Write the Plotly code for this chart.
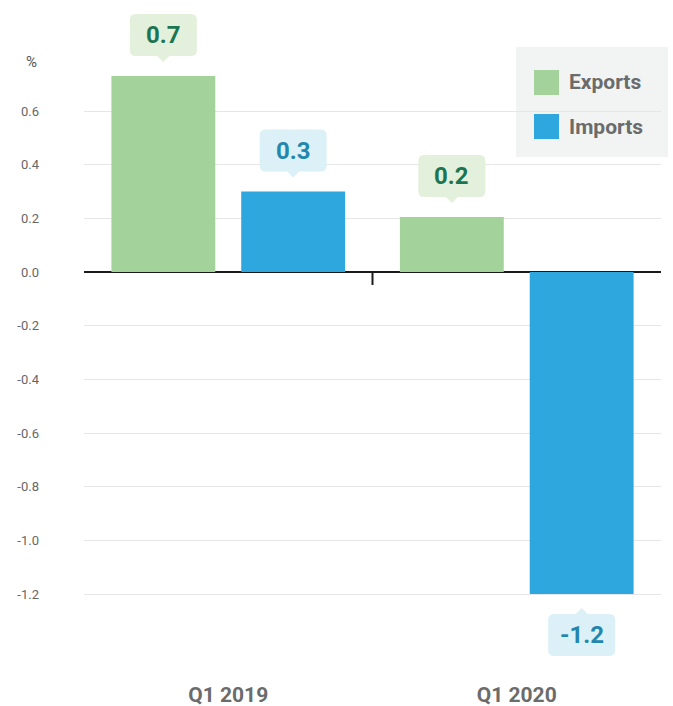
import plotly.graph_objects as go

# ---- data ----
categories = ["Q1 2019", "Q1 2020"]
exports = [0.73, 0.205]
imports = [0.30, -1.2]
export_labels = ["0.7", "0.2"]
import_labels = ["0.3", "-1.2"]
y_ticks = [0.6, 0.4, 0.2, 0.0, -0.2, -0.4, -0.6, -0.8, -1.0, -1.2]
y_ticktext = ["0.6", "0.4", "0.2", "0.0", "-0.2", "-0.4", "-0.6", "-0.8", "-1.0", "-1.2"]

# ---- style ----
W, H = 673, 706
ML, MR, MT, MB = 84, 12, 2, 26
EXP_COLOR = "#a3d39a"
IMP_COLOR = "#2ea6de"
EXP_BOX, EXP_TXT = "#e3f0dc", "#1b7553"
IMP_BOX, IMP_TXT = "#dcf0f7", "#2386ad"
BARGAP, GROUPGAP = 0.1, 0.2
FONT = "Roboto"

xs = list(range(len(categories)))
fig = go.Figure()
fig.add_trace(go.Bar(x=xs, y=exports, name="Exports", marker_color=EXP_COLOR,
                     marker_line_width=0, showlegend=False))
fig.add_trace(go.Bar(x=xs, y=imports, name="Imports", marker_color=IMP_COLOR,
                     marker_line_width=0, showlegend=False))

offset = (1 - BARGAP) / 4.0


def callout_path(up, w=33.5, yb=20, yt=62, tip=14, pw=6, r=6):
    s = 1 if up else -1
    def p(x, y):
        return f"{x},{s*y}"
    return (f"M {p(-w+r, yb)} L {p(-pw, yb)} L {p(0, tip)} L {p(pw, yb)} "
            f"L {p(w-r, yb)} Q {p(w, yb)} {p(w, yb+r)} L {p(w, yt-r)} "
            f"Q {p(w, yt)} {p(w-r, yt)} L {p(-w+r, yt)} Q {p(-w, yt)} {p(-w, yt-r)} "
            f"L {p(-w, yb+r)} Q {p(-w, yb)} {p(-w+r, yb)} Z")


shapes = []
annotations = []
for series, labels, off, box, txt in [(exports, export_labels, -offset, EXP_BOX, EXP_TXT),
                                       (imports, import_labels, offset, IMP_BOX, IMP_TXT)]:
    for i, (v, lab) in enumerate(zip(series, labels)):
        up = v >= 0
        xc = xs[i] + off
        shapes.append(dict(type="path", xref="x", yref="y", xsizemode="pixel",
                           ysizemode="pixel", xanchor=xc, yanchor=v,
                           path=callout_path(up), fillcolor=box, line_width=0,
                           layer="above"))
        annotations.append(dict(x=xc, y=v, xref="x", yref="y", text=f"<b>{lab}</b>",
                                showarrow=False, yshift=41 if up else -41,
                                font=dict(family=FONT, size=24, color=txt),
                                xanchor="center", yanchor="middle"))

# tick mark between categories on the zero line
shapes.append(dict(type="line", xref="x", yref="y", x0=0.5, x1=0.5,
                   ysizemode="pixel", yanchor=0, y0=0, y1=-13,
                   line=dict(color="#1a1a1a", width=2)))

pw_ = W - ML - MR
ph_ = H - MT - MB


def px(x):
    return (x - ML) / pw_


def py(y):
    return (H - MB - y) / ph_


# legend
shapes.append(dict(type="rect", xref="paper", yref="paper", x0=px(516), x1=px(668),
                   y0=py(157), y1=py(47), fillcolor="#f2f4f3", line_width=0, layer="below"))
for name, col, yc in [("Exports", EXP_COLOR, 82.5), ("Imports", IMP_COLOR, 126.5)]:
    shapes.append(dict(type="rect", xref="paper", yref="paper", x0=px(534), x1=px(559),
                       y0=py(yc + 12.5), y1=py(yc - 12.5), fillcolor=col, line_width=0))
    annotations.append(dict(x=px(567), y=py(yc), xref="paper", yref="paper",
                            text=f"<b>{name}</b>", showarrow=False, xanchor="left",
                            yanchor="middle",
                            font=dict(family=FONT, size=21, color="#6b6b6b")))

annotations.append(dict(x=px(31), y=py(62), xref="paper", yref="paper", text="%",
                        showarrow=False, xanchor="center", yanchor="middle",
                        font=dict(family=FONT, size=15, color="#555555")))

p_unit = (594 - 272) / 1.2
y_top = (272 - MT) / p_unit
y_bot = y_top - ph_ / p_unit

fig.update_layout(
    width=W, height=H, autosize=False,
    margin=dict(l=ML, r=MR, t=MT, b=MB, pad=0),
    paper_bgcolor="white", plot_bgcolor="white",
    barmode="group", bargap=BARGAP, bargroupgap=GROUPGAP,
    font=dict(family=FONT),
    shapes=shapes, annotations=annotations,
    showlegend=False,
    xaxis=dict(range=[-0.5, 1.5], tickvals=xs, ticktext=[f"<b>{c}</b>" for c in categories],
               showgrid=False, zeroline=False, showline=False, ticks="",
               tickfont=dict(family=FONT, size=21, color="#6b6b6b"), automargin=False,
               fixedrange=True),
    yaxis=dict(range=[y_bot, y_top], tickvals=y_ticks, ticktext=y_ticktext,
               showgrid=True, gridcolor="#e6e6e6", gridwidth=1,
               zeroline=True, zerolinecolor="#1a1a1a", zerolinewidth=2,
               showline=False, ticks="", ticklabelstandoff=44,
               tickfont=dict(family=FONT, size=13, color="#666666"), automargin=False,
               fixedrange=True),
)

fig.write_html("out.html", config={"displayModeBar": False},
               post_script="document.body.style.margin='0px';")
